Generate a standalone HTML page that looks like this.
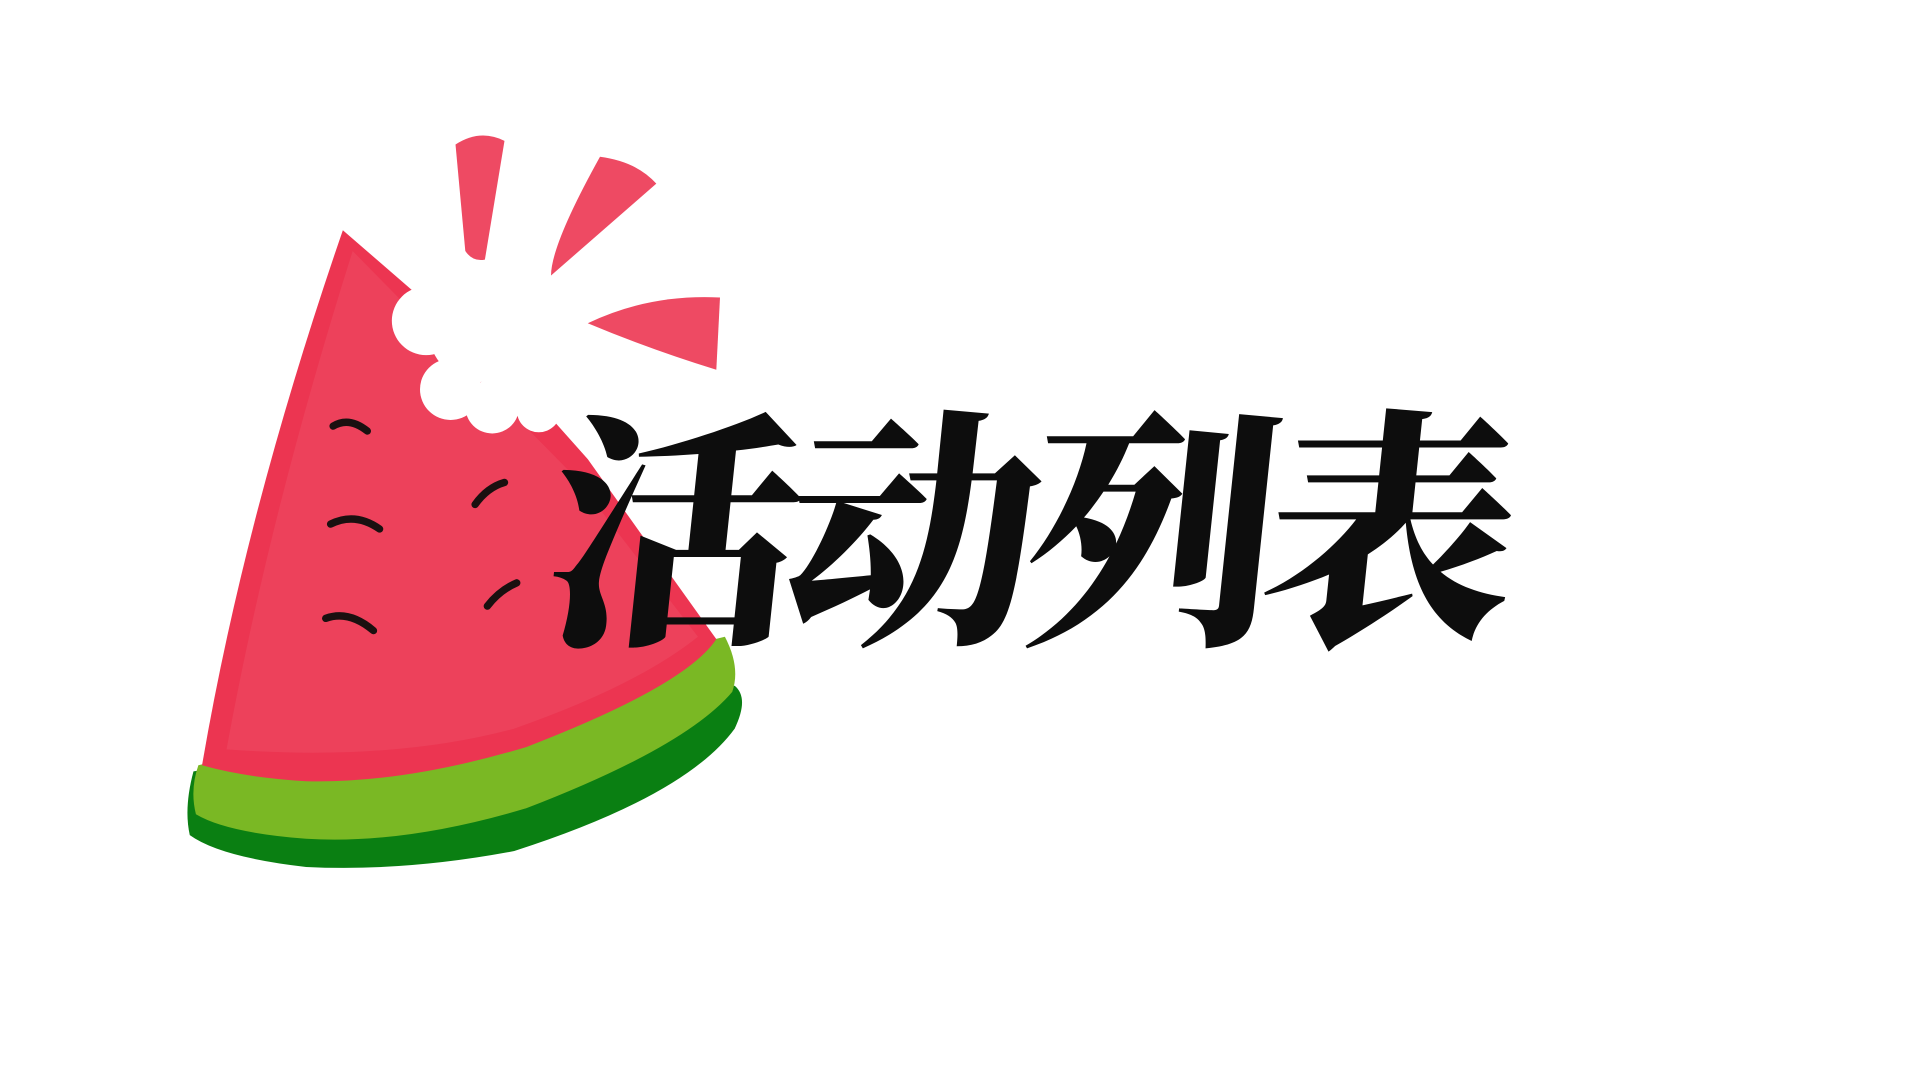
<!DOCTYPE html>
<html><head><meta charset="utf-8"><style>
html,body{margin:0;padding:0;background:#fff;width:1920px;height:1080px;overflow:hidden}
svg{display:block}
</style></head><body>
<svg width="1920" height="1080" viewBox="0 0 1568 882" preserveAspectRatio="none" xmlns="http://www.w3.org/2000/svg">
<rect width="1568" height="882" fill="#fff"/>
<g>
  <path d="M158,630 L600,560 Q612,570 600,595 Q560,650 420,695 Q330,712 250,708 Q180,700 155,682 Q150,660 158,630 Z" fill="#0a7f12"/>
  <path d="M162,625 L592,520 Q605,545 598,565 Q560,610 430,660 Q330,690 250,685 Q185,680 160,665 Q155,645 162,625 Z" fill="#7ab824"/>
  <path d="M280,188 L340,240 L440,330 L480,375 L585,522 Q560,560 430,610 Q330,640 250,638 Q200,635 165,625 Q200,420 280,188 Z" fill="#ec3551"/>
  <path d="M288,205 L470,390 L570,520 Q520,560 420,595 Q320,622 185,612 Q220,420 288,205 Z" fill="#ef4a63" opacity="0.6"/>
  <g fill="#fff">
    <circle cx="348" cy="262" r="28"/><circle cx="368" cy="318" r="25"/><circle cx="402" cy="332" r="22"/><circle cx="392" cy="270" r="42"/><circle cx="430" cy="305" r="32"/><circle cx="440" cy="335" r="18"/>
  </g>
  <g stroke="#1a1010" stroke-width="6" fill="none" stroke-linecap="round">
    <path d="M272,348 Q285,340 300,352"/><path d="M270,428 Q290,418 310,432"/><path d="M266,505 Q285,498 305,515"/>
    <path d="M388,412 Q398,398 412,394"/><path d="M398,495 Q408,482 422,476"/>
  </g>
</g>
<g fill="#ee4a63">
  <path d="M372,118 Q392,105 412,115 L396,212 Q386,214 380,205 Z"/>
  <path d="M490,128 Q520,132 536,150 L450,225 Q450,200 490,128 Z"/>
  <path d="M480,264 Q530,240 588,243 L585,302 Q530,285 480,264 Z"/>
</g>
<text x="440" y="510" font-family="'Noto Serif CJK SC','WenQuanYi Zen Hei',serif" font-weight="900" font-size="205" fill="#0d0d0d" letter-spacing="-10" transform="skewX(-6) translate(55,0)">活动列表</text>
</svg>
</body></html>
